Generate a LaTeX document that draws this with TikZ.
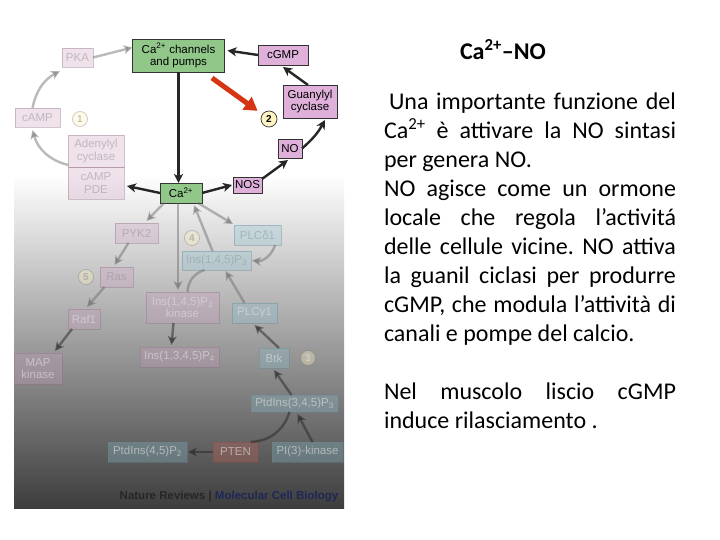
\documentclass[tikz,border=0pt]{standalone}
\usepackage{fontspec}
\setmainfont{Carlito}
\newfontfamily\figfont{Liberation Sans}
\usetikzlibrary{arrows.meta,calc}
\definecolor{actgreen}{RGB}{145,200,138}
\definecolor{actpink}{RGB}{222,176,218}
\definecolor{numyel}{RGB}{255,245,195}
\definecolor{fpink}{RGB}{205,160,192}
\definecolor{fblue}{RGB}{140,195,212}
\definecolor{fred}{RGB}{205,100,85}
\definecolor{redarrow}{RGB}{214,52,18}
\definecolor{navy}{RGB}{30,40,85}
\begin{document}
\frenchspacing
\begin{tikzpicture}[x=1bp,y=-1bp,
  every node/.style={inner sep=0pt, outer sep=0pt},
  bx/.style 2 args={minimum width=#1bp, minimum height=#2bp},
  fig/.style={font=\figfont\fontsize{11.5bp}{12.5bp}\selectfont, align=center},
  actbox/.style={fig, draw=black!80, line width=0.7bp, text=black},
  gbox/.style={actbox, fill=actgreen},
  pbox/.style={actbox, fill=actpink},
  fadebox/.style={fig, draw=#1!70!black, draw opacity=0.4, fill=#1, fill opacity=0.3, text=#1!40!black!60, text opacity=0.5, line width=0.7bp},
  ltxt/.style={text=white!88!black, text opacity=0.6},
  numc/.style={circle, draw=black!80, fill=numyel, line width=0.7bp, minimum size=16bp, font=\figfont\bfseries\fontsize{10bp}{10bp}\selectfont},
  fnum/.style={circle, draw=black!60, draw opacity=0.35, fill=numyel, fill opacity=0.35, text=black!45, text opacity=0.5, line width=0.7bp, minimum size=15bp, font=\figfont\bfseries\fontsize{10bp}{10bp}\selectfont},
  blk/.style={draw=black!85, line width=2.4bp, -{Stealth[length=9bp,width=9bp,inset=2.5bp]}},
  fad/.style={draw=black!60, opacity=0.45, line width=2.4bp, -{Stealth[length=9bp,width=9bp,inset=2.5bp]}},
  fadl/.style={draw=black!60, opacity=0.45, line width=2.4bp},
  dk/.style={draw=black!85, opacity=0.5},
  redarr/.style={draw=redarrow, line width=5bp, -{Triangle[length=13bp,width=15bp]}},
  body/.style={anchor=mid west, font=\fontsize{24bp}{29bp}\selectfont}
]
\useasboundingbox (0,0) rectangle (720,540);
\fill[white] (0,0) rectangle (720,540);
% gradient panel
\shade[top color=white, middle color=black!30, bottom color=black!76] (14,175) rectangle (344,508);

% ---- active part ----
\node[gbox, bx={92}{33}] (chan) at (178.5,55.5) {Ca\textsuperscript{2+} channels\\and pumps};
\node[pbox, bx={50}{20}] (cgmp) at (283,55) {cGMP};
\node[pbox, bx={54}{33}] (gc) at (310,101.5) {Guanylyl\\cyclase};
\node[pbox, bx={24}{19}] (no) at (290,148.5) {NO};
\node[pbox, bx={29}{16}] (nos) at (247.5,185) {NOS};
\node[gbox, bx={42}{20}] (ca) at (181,193) {Ca\textsuperscript{2+}};
\node[numc] (c2) at (269,119) {2};

% ---- faded upper part ----
\node[fadebox=fpink, bx={31}{19}] (pka) at (77.5,57.5) {PKA};
\node[fadebox=fpink, bx={45}{19}] (camp) at (37.5,117.5) {cAMP};
\node[fnum] (c1) at (80,119) {1};
\node[fadebox=fpink, bx={56}{32}] (ac) at (96,151) {Adenylyl\\cyclase};
\node[fadebox=fpink, bx={56}{32}] (pde) at (96,183) {cAMP\\PDE};

% ---- faded lower part ----
\node[fadebox=fpink, bx={43}{20}] (pyk) at (136.5,233) {PYK2};
\node[fadebox=fpink, bx={33}{20}] (ras) at (116.5,277) {Ras};
\node[fnum] (c5) at (86,277) {5};
\node[fadebox=fpink, ltxt, bx={32}{20}] (raf) at (84,319) {Raf1};
\node[fadebox=fpink, ltxt, bx={48}{31}] (map) at (38,368.5) {MAP\\kinase};
\node[fnum] (c4) at (192,238) {4};
\node[fadebox=fblue, bx={69}{19}] (ip3) at (216.5,260.5) {Ins(1,4,5)P\textsubscript{3}};
\node[fadebox=fblue, bx={47}{20}] (plcd) at (257.5,235) {PLCδ1};
\node[fadebox=fpink, ltxt, bx={73}{31}] (ip3k) at (182.5,307.5) {Ins(1,4,5)P\textsubscript{3}\\kinase};
\node[fadebox=fblue, ltxt, bx={45}{20}] (plcg) at (254.5,313) {PLCγ1};
\node[fadebox=fpink, ltxt, bx={79}{20}] (ip4) at (179.5,357) {Ins(1,3,4,5)P\textsubscript{4}};
\node[fadebox=fblue, ltxt, bx={30}{20}] (btk) at (274,358) {Btk};
\node[fnum, ltxt] (c3) at (308,358) {3};
\node[fadebox=fblue, ltxt, bx={87}{17}] (pip3) at (294.5,403.5) {PtdIns(3,4,5)P\textsubscript{3}};
\node[fadebox=fred, ltxt, bx={45}{20}] (pten) at (235.5,452) {PTEN};
\node[fadebox=fblue, ltxt, bx={71}{20}] (pi3k) at (307.5,452) {PI(3)-kinase};
\node[fadebox=fblue, ltxt, bx={79}{20}] (pip2) at (147.5,452) {PtdIns(4,5)P\textsubscript{2}};

\node[font=\figfont\bfseries\fontsize{11.5bp}{12bp}\selectfont] (nat) at (229,497)
  {\textcolor{black!85}{Nature Reviews |} \textcolor{navy}{Molecular Cell Biology}};

% ---- active arrows ----
\draw[blk] (chan.south) -- (chan.south |- ca.north);
\draw[blk] (ca.west) -- ([xshift=3bp,yshift=-3bp]pde.east);
\draw[blk] (ca.east) -- ([xshift=-1bp]nos.west);
\draw[blk] ([yshift=-2bp]nos.north east) -- ([xshift=-2bp,yshift=-2bp]no.south);
\draw[blk] (no.east) to[bend right=10] ([xshift=15bp,yshift=-2bp]gc.south);
\draw[blk] ([xshift=-2bp]gc.north) -- ([yshift=-2bp]cgmp.south);
\draw[blk] (cgmp.west) -- ([xshift=3bp,yshift=5bp]chan.east);
\coordinate (rs) at (212,78);
\draw[redarr, shorten >=6bp] (rs) -- (c2);

% ---- faded arrows ----
\draw[fad] (pka.east) -- ([yshift=8bp]chan.west);
\draw[fad] ([xshift=-5bp]camp.north) to[bend left=25] ([xshift=-2bp,yshift=-4bp]pka.south west);
\draw[fad] ([yshift=-14bp]ac.west) to[bend left=30] ([xshift=-5bp,yshift=-3bp]camp.south);
\draw[fad] ([xshift=4bp]ca.south west) -- ([xshift=10bp,yshift=2bp]pyk.north);
\draw[fad] ([xshift=-8bp]pyk.south) -- ([xshift=-2bp,yshift=2bp]ras.north);
\draw[fad] ([xshift=-12bp]ras.south) -- ([xshift=3bp,yshift=2bp]raf.north);
\draw[fad, dk] ([xshift=-12bp]raf.south) -- ([xshift=17bp,yshift=2bp]map.north);
\draw[fad, shorten >=2bp] ([xshift=-3bp]ca.south) -- ([xshift=-3bp]ca.south |- ip3k.north);
\draw[fad] ([xshift=-4bp]ca.south east) -- ([xshift=-1bp,yshift=1bp]plcd.north west);
\draw[fad] ([xshift=-4bp]ip3.north) -- ([xshift=13bp,yshift=-2bp]ca.south);
\draw[fad] ([xshift=-6bp]plcd.south east) to[bend left=40] ([xshift=1bp]ip3.east);
\draw[fadl] ([xshift=-12bp]ip3.south) to[bend right=35] ([xshift=5bp]ip3k.north);
\draw[fad, dk] ([xshift=-9bp]ip3k.south) -- ([xshift=-8bp,yshift=2bp]ip4.north);
\draw[fad] ([xshift=-10bp]plcg.north) -- ([xshift=9bp,yshift=-1bp]ip3.south);
\draw[fad, dk] ([xshift=5bp]btk.north) -- ([yshift=-2bp]plcg.south);
\draw[fad, dk] ([xshift=-3bp]pip3.north) -- ([yshift=-2bp]btk.south);
\draw[fad, dk] ([xshift=5bp]pi3k.north) -- ([xshift=3bp,yshift=-2bp]pip3.south);
\draw[fadl, dk] ([xshift=-5bp]pip3.south) to[bend left=35] ([xshift=15bp]pten.north);
\draw[fad, dk] (pten.west) -- ([xshift=1bp]pip2.east);

% ---- text ----
\node[font=\bfseries\fontsize{24bp}{29bp}\selectfont] (title) at (503,50) {Ca\textsuperscript{2+}–NO};
\node[body] (t1) at (384,107) {\makebox[292bp][s]{\hspace{5bp}Una importante funzione del}};
\node[body] (t2) at (384,136) {\makebox[292bp][s]{Ca\textsuperscript{2+} è attivare la NO sintasi}};
\node[body] (t3) at (384,165) {per genera NO.};
\node[body] (t4) at (384,194) {\makebox[292bp][s]{NO agisce come un ormone}};
\node[body] (t5) at (384,223) {\makebox[292bp][s]{locale che regola l’activitá}};
\node[body] (t6) at (384,252) {\makebox[292bp][s]{delle cellule vicine. NO attiva}};
\node[body] (t7) at (384,281) {\makebox[292bp][s]{la guanil ciclasi per produrre}};
\node[body] (t8) at (384,310) {\makebox[292bp][s]{cGMP, che modula l’attività di}};
\node[body] (t9) at (384,339) {canali e pompe del calcio.};
\node[body] (t10) at (384,397) {\makebox[292bp][s]{Nel muscolo liscio cGMP}};
\node[body] (t11) at (384,426) {induce rilasciamento .};
\end{tikzpicture}
\end{document}
